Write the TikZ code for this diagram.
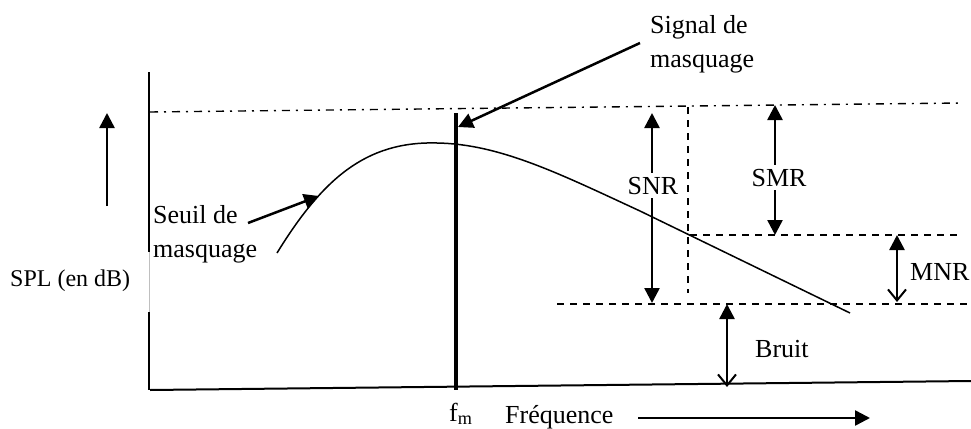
\documentclass[tikz,border=0pt]{standalone}
\usepackage{fontspec}
\setmainfont{Liberation Serif}
\usetikzlibrary{arrows.meta}
\begin{document}
\begin{tikzpicture}[x=1pt,y=-1pt,
  lbl/.style={inner sep=0pt, font=\fontsize{26}{34}\selectfont, align=left},
  axisline/.style={line width=2pt},
  fillhead/.style={-{Triangle[length=15pt,width=15pt]}, line width=2.5pt},
  dblarrow/.style={{Triangle[length=15pt,width=15pt]}-{Triangle[length=15pt,width=15pt]}, line width=2.5pt},
  halfarrow/.style={{Triangle[length=15pt,width=15pt]}-{Straight Barb[length=11pt,width=18pt,line width=2pt]}, line width=2.5pt},
  dashedline/.style={line width=1.4pt, dash pattern=on 7pt off 6pt},
  dashdot/.style={line width=1.4pt, dash pattern=on 8pt off 6pt on 2pt off 6pt},
  gaplbl/.style={lbl, fill=white, inner xsep=1pt, inner ysep=4pt}]
\useasboundingbox (0,0) rectangle (971,428);
\fill[white] (0,0) rectangle (971,428);

% axes
\draw[axisline] (149,72) -- (149,252);
\draw[gray!50, line width=0.8pt] (149,252) -- (149,312);
\draw[axisline] (149,312) -- (149,390);
\draw[axisline] (150,390) -- (971,381);

% reference lines
\draw[dashdot] (150,112) -- (962,103);
\draw[dashedline] (688,107) -- (688,293);
\draw[dashedline] (690,235) -- (962,235);
\draw[dashedline] (557,304) -- (971,304);

% masking threshold curve
\draw[line width=1.5pt] (277,253) .. controls (322,180) and (365,141) .. (437,143)
  .. controls (500,144) and (560,174) .. (640,211) -- (850,313);

% masking signal
\draw[line width=4pt] (456,113) -- (456,390);

% coordinates
\coordinate (upB) at (107,206);
\coordinate (upT) at (107,113);
\coordinate (sigTail) at (640,43);
\coordinate (sigTip) at (458,127);
\coordinate (seuTail) at (248,223);
\coordinate (seuTip) at (319,196);
\coordinate (snrT) at (652,113);
\coordinate (snrB) at (652,303);
\coordinate (smrT) at (775,105);
\coordinate (smrB) at (775,235);
\coordinate (mnrT) at (897,235);
\coordinate (mnrB) at (897,302);
\coordinate (brT) at (727,304);
\coordinate (brB) at (727,387);
\coordinate (frL) at (638,418);
\coordinate (frR) at (870,418);

% arrows
\draw[fillhead] (upB) -- (upT);
\draw[fillhead] (sigTail) -- (sigTip);
\draw[fillhead] (seuTail) -- (seuTip);
\draw[fillhead] (frL) -- (frR);
\draw[dblarrow] (snrT) -- (snrB);
\draw[dblarrow] (smrT) -- (smrB);
\draw[halfarrow] (mnrT) -- (mnrB);
\draw[halfarrow] (brT) -- (brB);

% labels
\node[gaplbl, anchor=base] (snr) at (653,194) {SNR};
\node[gaplbl, anchor=base] (smr) at (779,186) {SMR};
\node[lbl, anchor=base west] (mnr) at (910,280) {MNR};
\node[lbl, anchor=base west] (bruit) at (755,357) {Bruit};
\node[lbl, anchor=base west, font=\fontsize{24}{30}\selectfont] (spl) at (10,286) {SPL (en dB)};
\node[lbl, anchor=base west] (seuil) at (153,257) {Seuil de\\masquage};
\node[lbl, anchor=base west] (signal) at (650,67) {Signal de\\masquage};
\node[lbl, anchor=base west] (fm) at (449,421) {f\textsubscript{m}};
\node[lbl, anchor=base west] (freq) at (505,423) {Fréquence};
\end{tikzpicture}
\end{document}
